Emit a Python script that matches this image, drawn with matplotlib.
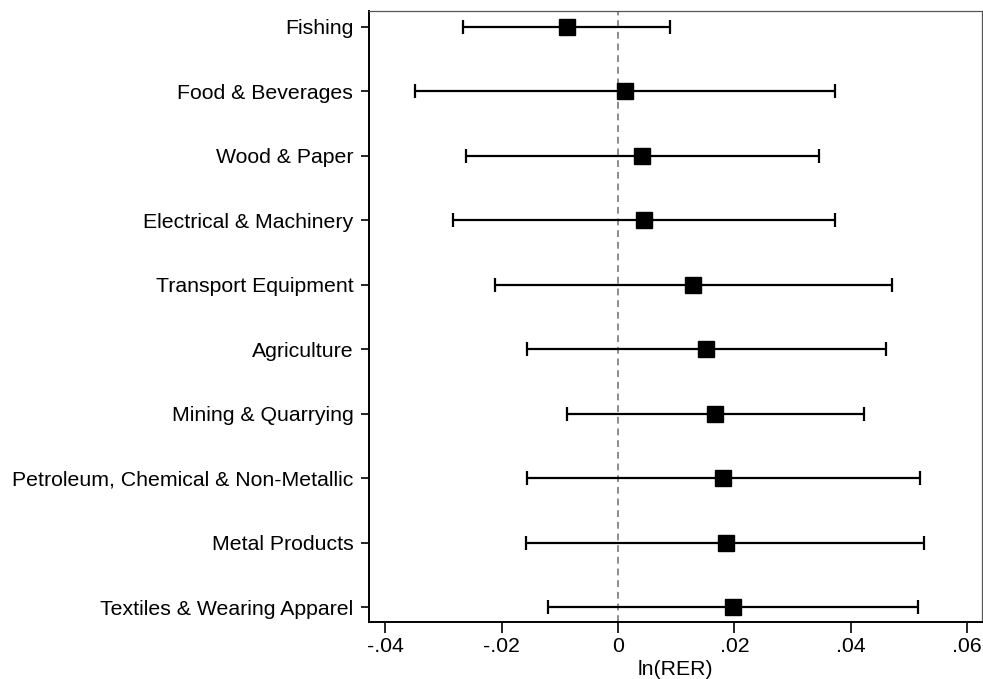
import matplotlib
matplotlib.use("Agg")
import matplotlib.pyplot as plt
import numpy as np

plt.rcParams['font.family'] = ['Liberation Sans', 'DejaVu Sans']

# sector estimates with 95% confidence bounds
sectors = ['Fishing', 'Food & Beverages', 'Wood & Paper', 'Electrical & Machinery',
           'Transport Equipment', 'Agriculture', 'Mining & Quarrying',
           'Petroleum, Chemical & Non-Metallic', 'Metal Products',
           'Textiles & Wearing Apparel']
coef = [-0.0088, 0.0012, 0.0042, 0.0045, 0.0129, 0.0151, 0.0167, 0.0181, 0.0185, 0.0198]
lower = [-0.0267, -0.0349, -0.0262, -0.0284, -0.0212, -0.0157, -0.0088, -0.0157, -0.0159, -0.0121]
upper = [0.0090, 0.0373, 0.0345, 0.0373, 0.0472, 0.0460, 0.0423, 0.0519, 0.0527, 0.0516]

xticks = [-0.04, -0.02, 0, 0.02, 0.04, 0.06]
xticklabels = ['-.04', '-.02', '0', '.02', '.04', '.06']

coef = np.array(coef)
err = np.vstack([coef - np.array(lower), np.array(upper) - coef])
ypos = np.arange(len(sectors))

fig = plt.figure(figsize=(9.83, 6.79), dpi=100)
ax = fig.add_axes([0.375, 0.084, 0.624, 0.9])

ax.axvline(0, color='#8c8c8c', linestyle=(0, (3.5, 2.5)), linewidth=1.4, zorder=1)
ax.errorbar(coef, ypos, xerr=err, fmt='s', color='black', ecolor='black',
            markersize=11, elinewidth=1.6, capsize=4.7, capthick=1.6, zorder=3)

ax.set_xlim(-0.0429, 0.0626)
ax.set_ylim(len(sectors) - 1 + 0.23, -0.25)
ax.set_yticks(ypos)
ax.set_yticklabels(sectors, fontsize=15.3)
ax.set_xticks(xticks)
ax.set_xticklabels(xticklabels, fontsize=15.3)
ax.set_xlabel('ln(RER)', fontsize=15.3, labelpad=3)

ax.tick_params(axis='y', length=6, width=1.2, pad=5)
ax.tick_params(axis='x', length=8, width=1.2, pad=3)
for side in ['left', 'bottom']:
    ax.spines[side].set_linewidth(1.4)
for side in ['top', 'right']:
    ax.spines[side].set_linewidth(0.9)
    ax.spines[side].set_color('#555555')

fig.savefig('out.png', dpi=100)
